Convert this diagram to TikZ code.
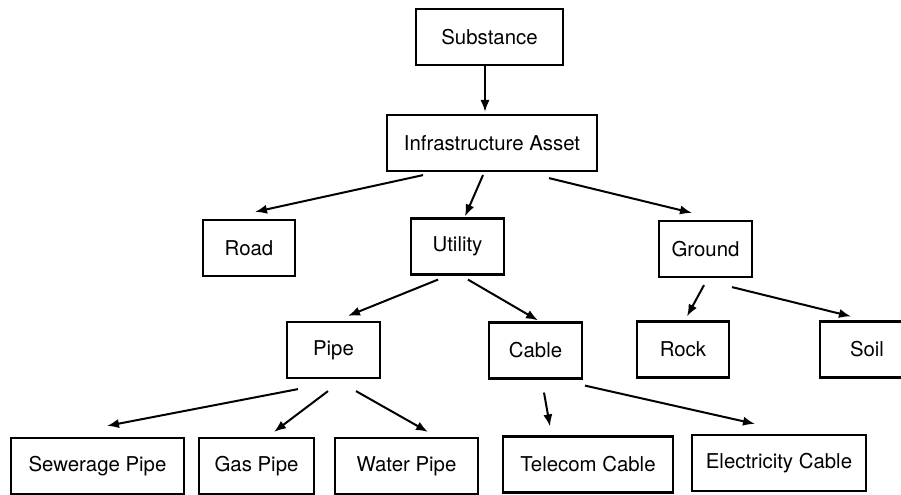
\documentclass[tikz,border=0pt]{standalone}
\usepackage{fontspec}
\setmainfont{TeX Gyre Heros}
\usetikzlibrary{arrows.meta}

\begin{document}
\begin{tikzpicture}[
        x=0.5pt, y=-0.5pt,
        >={Latex[length=6pt,width=4.6pt]},
        line width=1pt,
        every node/.style={font=\fontsize{10.2}{12}\selectfont},
        box/.style={draw, line width=1.1pt, inner sep=0pt, minimum height=28pt}
    ]
    \useasboundingbox (0,0) rectangle (901,494);

    % Boxes, top level
    \node[box, minimum width=73.5pt] (sub)   at (489.5,37)  {Substance};
    \node[box, minimum width=105pt]  (infra) at (492,143)   {Infrastructure Asset};

    % Second level
    \node[box, minimum width=46pt]   (road)   at (249,248)   {Road};
    \node[box, minimum width=46.5pt] (util)   at (457.5,246.5) {Utility};
    \node[box, minimum width=46.5pt] (ground) at (705.5,249) {Ground};

    % Third level
    \node[box, minimum width=46.5pt] (pipe)  at (333.5,350)   {Pipe};
    \node[box, minimum width=46.5pt] (cable) at (535.5,350.5) {Cable};
    \node[box, minimum width=46pt]   (rock)  at (683,349.5)   {Rock};
    \node[box, minimum width=47pt]   (soil)  at (867,349.5)   {Soil};

    % Bottom level
    \node[box, minimum width=86.5pt] (sewer)   at (97.5,466)  {Sewerage Pipe};
    \node[box, minimum width=57.5pt] (gas)     at (256.5,466) {Gas Pipe};
    \node[box, minimum width=71.5pt] (water)   at (406.5,466) {Water Pipe};
    \node[box, minimum width=85pt]   (telecom) at (588,464.5) {Telecom Cable};
    \node[box, minimum width=87pt]   (elec)    at (779,463)   {Electricity Cable};

    % Arrows from Substance and Infrastructure Asset
    \draw[->] ([shift={(-4.5,0)}]sub.south) -- ([shift={(-7,-2)}]infra.north);
    \draw[->] ([shift={(-69,3)}]infra.south) -- ([shift={(6,-7)}]road.north);
    \draw[->] ([shift={(-9,3)}]infra.south) -- ([shift={(7.5,-1)}]util.north);
    \draw[->] ([shift={(57,6)}]infra.south) -- ([shift={(-13.5,-7)}]ground.north);

    % Arrows from Utility and Ground
    \draw[->] ([shift={(-19.5,4)}]util.south) -- ([shift={(14.5,-5)}]pipe.north);
    \draw[->] ([shift={(10.5,4)}]util.south) -- ([shift={(2.5,-1)}]cable.north);
    \draw[->] ([shift={(-1.5,7)}]ground.south) -- ([shift={(4,-4)}]rock.north);
    \draw[->] ([shift={(26.5,9)}]ground.south) -- ([shift={(-16,-4)}]soil.north);

    % Arrows from Pipe and Cable
    \draw[->] ([shift={(-35.5,10)}]pipe.south) -- ([shift={(9.5,-11)}]sewer.north);
    \draw[->] ([shift={(-5.5,12)}]pipe.south) -- ([shift={(17.5,-5)}]gas.north);
    \draw[->] ([shift={(22.5,12)}]pipe.south) -- ([shift={(21.5,-5)}]water.north);
    \draw[->] ([shift={(8.5,13)}]cable.south) -- ([shift={(-38,-9)}]telecom.north);
    \draw[->] ([shift={(49.5,6)}]cable.south) -- ([shift={(-24,-10)}]elec.north);
\end{tikzpicture}
\end{document}
